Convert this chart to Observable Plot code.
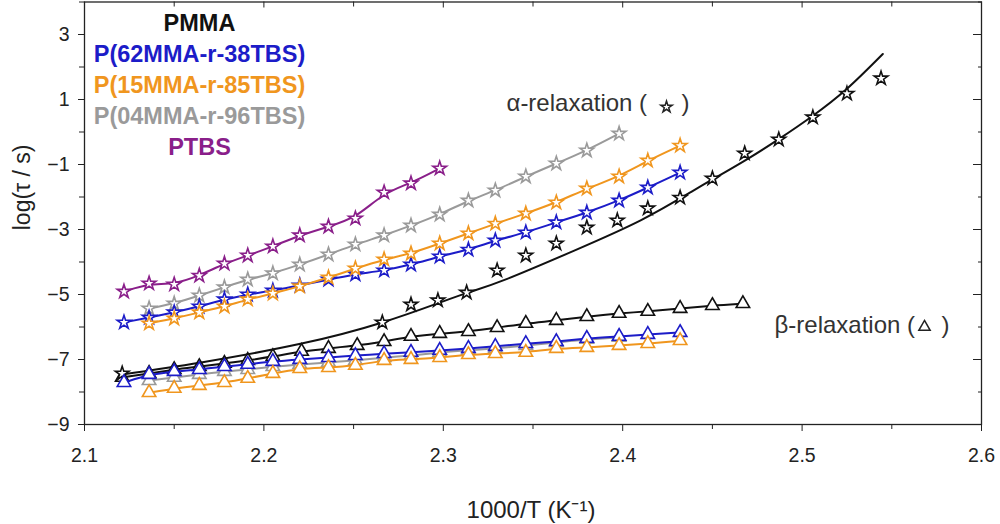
<!DOCTYPE html>
<html><head><meta charset="utf-8">
<script src="https://cdn.jsdelivr.net/npm/d3@7"></script>
<script src="https://cdn.jsdelivr.net/npm/@observablehq/plot@0.6"></script>
<style>body{margin:0;background:#fff;} svg{display:block;}</style>
</head><body><div id="chart"></div>
<script>
// ticks
const xTicks = [2.1, 2.2, 2.3, 2.4, 2.5, 2.6];
const xMinor = [2.15, 2.25, 2.35, 2.45, 2.55];
const yTicks = [-9, -7, -5, -3, -1, 1, 3];
const yMinor = [-8, -6, -4, -2, 0, 2, 4];

// legend
const names = ["PMMA", "P(62MMA-r-38TBS)", "P(15MMA-r-85TBS)", "P(04MMA-r-96TBS)", "PTBS"];
const colors = ["#111111", "#1c1cc8", "#f0961e", "#9a9a9a", "#8a1f8a"];

// PMMA alpha (stars) and its fit
const pmmaAlphaX = [2.121, 2.266, 2.282, 2.297, 2.313, 2.330, 2.346, 2.363, 2.380, 2.397, 2.414, 2.432, 2.450, 2.468, 2.487, 2.506, 2.525, 2.544];
const pmmaAlphaY = [-7.43, -5.86, -5.31, -5.18, -4.94, -4.26, -3.80, -3.43, -2.94, -2.72, -2.35, -2.02, -1.43, -0.66, -0.23, 0.45, 1.18, 1.65];
const pmmaFitX = [2.121, 2.165, 2.221, 2.266, 2.298, 2.315, 2.336, 2.373, 2.410, 2.438, 2.451, 2.469, 2.487, 2.506, 2.525, 2.545];
const pmmaFitY = [-7.46, -7.09, -6.51, -5.86, -5.25, -4.92, -4.51, -3.65, -2.72, -1.85, -1.43, -0.85, -0.22, 0.50, 1.33, 2.40];
// PMMA beta (triangles)
const pmmaBetaX = [2.121, 2.136, 2.150, 2.164, 2.178, 2.191, 2.205, 2.221, 2.236, 2.252, 2.267, 2.282, 2.298, 2.314, 2.330, 2.346, 2.363, 2.380, 2.398, 2.414, 2.432, 2.450, 2.467];
const pmmaBetaY = [-7.55, -7.43, -7.31, -7.22, -7.12, -7.03, -6.91, -6.75, -6.66, -6.57, -6.45, -6.29, -6.20, -6.14, -6.02, -5.89, -5.80, -5.68, -5.58, -5.52, -5.43, -5.34, -5.28];

// P(62MMA-r-38TBS)
const p62AlphaX = [2.122, 2.136, 2.150, 2.164, 2.178, 2.191, 2.205, 2.220, 2.236, 2.251, 2.267, 2.282, 2.298, 2.314, 2.329, 2.346, 2.363, 2.380, 2.398, 2.414, 2.432];
const p62AlphaY = [-5.86, -5.71, -5.55, -5.37, -5.15, -5.00, -4.88, -4.72, -4.54, -4.38, -4.26, -4.08, -3.83, -3.62, -3.34, -3.09, -2.78, -2.48, -2.11, -1.71, -1.25];
const p62BetaX = p62AlphaX;
const p62BetaY = [-7.71, -7.46, -7.37, -7.31, -7.22, -7.15, -7.06, -7.00, -6.94, -6.88, -6.82, -6.78, -6.72, -6.66, -6.60, -6.51, -6.45, -6.35, -6.29, -6.23, -6.17];

// P(15MMA-r-85TBS)
const p15AlphaX = [2.136, 2.150, 2.164, 2.178, 2.191, 2.205, 2.220, 2.236, 2.251, 2.267, 2.282, 2.298, 2.314, 2.329, 2.346, 2.363, 2.380, 2.398, 2.414, 2.432];
const p15AlphaY = [-5.89, -5.74, -5.55, -5.37, -5.15, -4.97, -4.75, -4.48, -4.20, -3.92, -3.74, -3.43, -3.12, -2.82, -2.51, -2.17, -1.74, -1.37, -0.88, -0.42];
const p15BetaX = p15AlphaX;
const p15BetaY = [-8.02, -7.89, -7.80, -7.71, -7.58, -7.43, -7.28, -7.25, -7.18, -7.03, -7.00, -6.94, -6.85, -6.82, -6.78, -6.66, -6.63, -6.57, -6.51, -6.42];

// P(04MMA-r-96TBS)
const p04AlphaX = [2.136, 2.150, 2.164, 2.178, 2.191, 2.205, 2.220, 2.236, 2.251, 2.267, 2.282, 2.298, 2.314, 2.329, 2.346, 2.363, 2.380, 2.398];
const p04AlphaY = [-5.43, -5.28, -5.03, -4.78, -4.54, -4.35, -4.08, -3.77, -3.46, -3.18, -2.88, -2.54, -2.11, -1.80, -1.37, -0.97, -0.57, -0.05];
const p04BetaX = p04AlphaX;
const p04BetaY = [-7.65, -7.55, -7.46, -7.37, -7.31, -7.22, -7.15, -7.09, -7.03, -6.94, -6.88, -6.78, -6.72, -6.66, -6.57, -6.48, -6.38, -6.32];

// PTBS
const ptbsAlphaX = [2.122, 2.136, 2.150, 2.164, 2.178, 2.191, 2.205, 2.220, 2.236, 2.251, 2.267, 2.282, 2.298];
const ptbsAlphaY = [-4.91, -4.66, -4.69, -4.42, -4.05, -3.80, -3.52, -3.18, -2.91, -2.66, -1.86, -1.58, -1.12];

const zip = (xs, ys) => xs.map((x, i) => ({x, y: ys[i]}));

const FONT = "Liberation Sans, Arial, sans-serif";
const starR = 4.3, triR = 5.0;

function seriesMarks(xs, ys, color, symbol, fitXs, fitYs) {
  const pts = zip(xs, ys);
  const fit = fitXs ? zip(fitXs, fitYs) : pts;
  return [
    Plot.line(fit, {x: "x", y: "y", stroke: color, strokeWidth: 2, curve: fitXs ? "natural" : "basis"}),
    Plot.dot(pts, {x: "x", y: "y", symbol, r: symbol === "star" ? starR : triR, stroke: color, strokeWidth: 1.6, fill: "white"})
  ];
}

const plotH = 524, mTop = 1.5, mBottom = 100, mLeft = 84, mRight = 19;
const innerH = plotH - mTop - mBottom;
const innerW = 1000 - mLeft - mRight;

const chart = Plot.plot({
  width: 1000,
  height: plotH,
  marginTop: mTop, marginBottom: mBottom, marginLeft: mLeft, marginRight: mRight,
  style: {fontFamily: FONT, fontSize: "19px", color: "#222", background: "white", overflow: "visible"},
  x: {domain: [2.1, 2.6]},
  y: {domain: [-9, 4]},
  marks: [
    // axes
    Plot.axisX({ticks: xTicks, tickFormat: d3.format(".1f"), tickSize: 7, tickPadding: 17, label: null, fontSize: 19.5, stroke: "#222"}),
    Plot.axisX({ticks: xMinor, tickSize: 5, text: null, label: null, stroke: "#222"}),
    Plot.axisY({ticks: yTicks, tickSize: 6, tickPadding: 9, label: null, fontSize: 19.5, stroke: "#222", tickFormat: d => d < 0 ? "\u2212" + Math.abs(d) : String(d)}),
    Plot.axisY({ticks: yMinor, tickSize: 5, text: null, label: null, stroke: "#222"}),
    // inward ticks on top and right
    Plot.tickX(xTicks, {x: d => d, insetBottom: innerH - 6, stroke: "#222"}),
    Plot.tickX(xMinor, {x: d => d, insetBottom: innerH - 5, stroke: "#222"}),
    Plot.tickY(yTicks, {y: d => d, insetLeft: innerW - 8, stroke: "#222"}),
    Plot.tickY(yMinor, {y: d => d, insetLeft: innerW - 3, stroke: "#222"}),
    Plot.frame({stroke: "#222", strokeWidth: 1.3}),
    // axis titles
    Plot.text(["log(\u03c4 / s)"], {frameAnchor: "left", dx: -62, dy: 17, rotate: -90, fontSize: 23, fill: "#222", lineAnchor: "middle"}),
    Plot.text(["1000/T (K\u207b\u00b9)"], {frameAnchor: "bottom", dx: -2, dy: 86, fontSize: 24, fill: "#222", lineAnchor: "middle"}),
    // series
    ...seriesMarks(pmmaBetaX, pmmaBetaY, colors[0], "triangle"),
    ...seriesMarks(pmmaAlphaX, pmmaAlphaY, colors[0], "star", pmmaFitX, pmmaFitY),
    ...seriesMarks(p04BetaX, p04BetaY, colors[3], "triangle"),
    ...seriesMarks(p04AlphaX, p04AlphaY, colors[3], "star"),
    ...seriesMarks(p62BetaX, p62BetaY, colors[1], "triangle"),
    ...seriesMarks(p62AlphaX, p62AlphaY, colors[1], "star"),
    ...seriesMarks(p15BetaX, p15BetaY, colors[2], "triangle"),
    ...seriesMarks(p15AlphaX, p15AlphaY, colors[2], "star"),
    ...seriesMarks(ptbsAlphaX, ptbsAlphaY, colors[4], "star"),
    // legend
    ...names.map((n, i) => Plot.text([n], {frameAnchor: "top-left", dx: 115, dy: 21.5 + i * 31, fill: colors[i], fontSize: 23.5, fontWeight: "bold", textAnchor: "middle", lineAnchor: "middle"})),
    // annotations
    Plot.text(["\u03b1-relaxation ("], {frameAnchor: "top-left", dx: 422, dy: 101, textAnchor: "start", lineAnchor: "middle", fontSize: 24, fill: "#333"}),
    Plot.dot([0], {frameAnchor: "top-left", dx: 582, dy: 105, symbol: "star", r: 3.6, stroke: "#222", strokeWidth: 1.5, fill: "white"}),
    Plot.text([")"], {frameAnchor: "top-left", dx: 597, dy: 101, textAnchor: "start", lineAnchor: "middle", fontSize: 24, fill: "#333"}),
    Plot.text(["\u03b2-relaxation ("], {frameAnchor: "top-left", dx: 690, dy: 323, textAnchor: "start", lineAnchor: "middle", fontSize: 24, fill: "#333"}),
    Plot.dot([0], {frameAnchor: "top-left", dx: 840, dy: 325, symbol: "triangle", r: 4.2, stroke: "#222", strokeWidth: 1.5, fill: "white"}),
    Plot.text([")"], {frameAnchor: "top-left", dx: 857, dy: 323, textAnchor: "start", lineAnchor: "middle", fontSize: 24, fill: "#333"})
  ]
});
document.getElementById("chart").appendChild(chart);
</script>
</body></html>
